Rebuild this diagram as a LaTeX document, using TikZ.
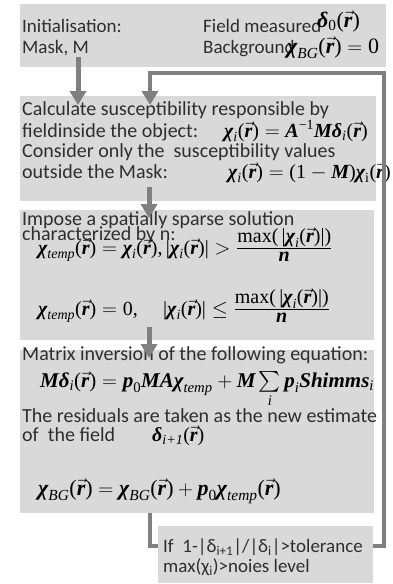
\documentclass[tikz,border=0pt]{standalone}
\usepackage{amsmath}
\usepackage{fontspec}
\setmainfont{Carlito}
\newfontfamily\mf{Liberation Serif}
\usetikzlibrary{arrows.meta}
\definecolor{boxgray}{HTML}{D9D9D9}
\definecolor{arrgray}{HTML}{808080}
\definecolor{txtc}{HTML}{2E2E2E}
\newcommand\bi[1]{\text{\mf\bfseries\itshape #1}}
\newcommand\ri[1]{\text{\mf\itshape #1}}
\newcommand\rr[1]{\text{\mf #1}}
\newcommand\vr{\vec{\bi{r}}}
\newcommand\lp{\rr{(}}
\newcommand\rp{\rr{)}}
\newcommand\mfrac[2]{\frac{\mbox{$#1$}}{\mbox{$#2$}}}
\tikzset{
  box/.style={fill=boxgray, draw=none, inner sep=0pt, outer sep=0pt, anchor=north west},
  txt/.style={anchor=base west, inner sep=0pt, text=txtc, font=\fontsize{20}{22}\selectfont},
  txs/.style={txt, font=\fontsize{19}{21}\selectfont},
  eq/.style={anchor=base west, inner sep=0pt, text=black, font=\fontsize{20}{24}\selectfont},
  eqb/.style={eq, font=\fontsize{22}{26}\selectfont},
  flow/.style={draw=arrgray, line width=5pt, -{Triangle[width=16pt,length=14pt]}},
  link/.style={draw=arrgray, line width=4.5pt},
}
\begin{document}
\begin{tikzpicture}[x=1pt,y=-1pt]
\useasboundingbox (0,0) rectangle (393,584);
% boxes
\node[box, minimum width=366pt, minimum height=63pt] (b1) at (20,4) {};
\node[box, minimum width=356pt, minimum height=105pt] (b2) at (20,96) {};
\node[box, minimum width=354pt, minimum height=130pt] (b3) at (20,210) {};
\node[box, minimum width=354pt, minimum height=163pt] (b4) at (20,350) {};
\node[box, minimum width=215pt, minimum height=57pt] (b5) at (158,526) {};
% box 1 text
\node[txs] (t1a) at (22,32) {Initialisation:};
\node[txs] (t1b) at (22,53) {Mask, M};
\node[txs] (t1c) at (203,32) {Field measured};
\node[eqb] (e1a) at (317,27) {$\bi{δ}_{\rr{0}}\lp\vr\rp$};
\node[txs] (t1d) at (203,53) {Background};
\node[eqb] (e1b) at (287,53) {$\bi{χ}_{\ri{BG}}\lp\vr\rp=\rr{0}$};
% box 2 text
\node[txt] (t2a) at (22,115) {Calculate susceptibility responsible by};
\node[txt] (t2b) at (22,137) {fieldinside the object:};
\node[eq] (e2a) at (224,137) {$\bi{χ}_{\ri{i}}\lp\vr\rp=\bi{A}^{\rr{−1}}\bi{M}\bi{δ}_{\ri{i}}\lp\vr\rp$};
\node[txt] (t2c) at (22,157) {Consider only the \ susceptibility values};
\node[txt] (t2d) at (22,178) {outside the Mask:};
\node[eq] (e2b) at (228,178) {$\bi{χ}_{\ri{i}}\lp\vr\rp=\rr{(1}-\bi{M}\rr{)}\bi{χ}_{\rr{i}}\lp\vr\rp$};
% box 3 text
\node[txt] (t3a) at (22,225) {Impose a spatially sparse solution};
\node[txt] (t3b) at (22,240) {characterized by n:};
\node[eq] (e3a) at (38,254) {$\bi{χ}_{\ri{temp}}\lp\vr\rp = \bi{χ}_{\ri{i}}\lp\vr\rp\rr{,}\,\rr{|}\bi{χ}_{\ri{i}}\lp\vr\rp\rr{|} > \mfrac{\rr{max(\,|}\bi{χ}_{\ri{i}}\lp\vr\rp\rr{|)}}{\bi{n}}$};
\node[eq] (e3b) at (38,315) {$\bi{χ}_{\ri{temp}}\lp\vr\rp = \rr{0,}$};
\node[eq] (e3c) at (163,315) {$\rr{|}\bi{χ}_{\ri{i}}\lp\vr\rp\rr{|} \le \mfrac{\rr{max(\,|}\bi{χ}_{\ri{i}}\lp\vr\rp\rr{|)}}{\bi{n}}$};
% box 4 text
\node[txt] (t4a) at (22,360) {Matrix inversion of the following equation:};
\node[eq, font=\fontsize{21}{25}\selectfont] (e4a) at (40,387) {$\bi{M}\bi{δ}_{\ri{i}}\lp\vr\rp=\bi{p}_{\rr{0}}\bi{MA}\bi{χ}_{\ri{temp}}+\bi{M}\sum\limits_{\ri{i}}\bi{p}_{\ri{i}}\bi{Shimms}_{\ri{i}}$};
\node[txt] (t4b) at (22,422) {The residuals are taken as the new estimate};
\node[txt] (t4c) at (22,441) {of \ the field};
\node[eq] (e4b) at (152,441) {$\bi{δ}_{\ri{i+1}}\lp\vr\rp$};
\node[eqb] (e4c) at (38,495) {$\bi{χ}_{\ri{BG}}\lp\vr\rp = \bi{χ}_{\ri{BG}}\lp\vr\rp + \bi{p}_{\rr{0}}\bi{χ}_{\ri{temp}}\lp\vr\rp$};
% box 5 text
\node[txs] (t5a) at (163,552) {If \ 1-|δ\textsubscript{i+1}|/|δ\textsubscript{i}|>tolerance};
\node[txs] (t5b) at (163,572) {max(χ\textsubscript{i})>noies level};
% connectors
\coordinate (a1s) at (78,57);
\coordinate (a1e) at (78,105);
\draw[flow] (a1s) -- (a1e);
\coordinate (a3s) at (149,187);
\coordinate (a3e) at (149,218);
\draw[flow] (a3s) -- (a3e);
\coordinate (a4s) at (149,327);
\coordinate (a4e) at (149,358);
\draw[flow] (a4s) -- (a4e);
\coordinate (fbR) at (384,546);
\coordinate (fbT) at (384,73);
\coordinate (fbL) at (150,73);
\coordinate (fbE) at (150,105);
\draw[link, line join=miter, -{Triangle[width=16pt,length=14pt]}] (b5.east |- fbR) -- (fbR) -- (fbT) -- (fbL) -- (fbE);
\coordinate (lbC) at (150,546);
\draw[link, line join=miter] (b4.south -| lbC) -- (lbC) -- (b5.west |- lbC);
\end{tikzpicture}
\end{document}
